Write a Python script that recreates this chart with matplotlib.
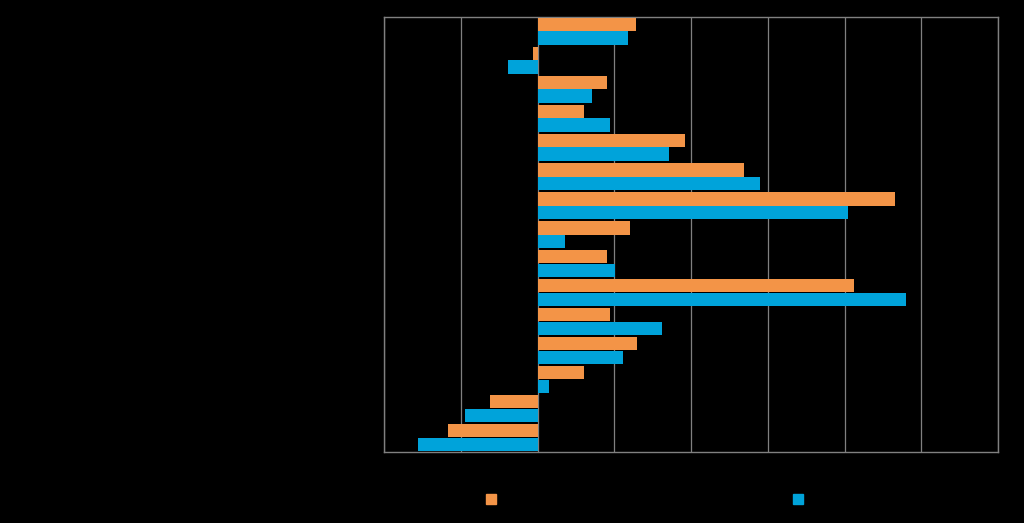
import matplotlib
matplotlib.use('Agg')
import matplotlib.pyplot as plt
import numpy as np
from matplotlib.patches import Patch

# data (labels are black on black in the original)
categories = [f'Cat {i}' for i in range(1, 16)]
series_names = ['Series 1', 'Series 2']
orange_vals = [6.4, -0.3, 4.5, 3.05, 9.6, 13.45, 23.3, 6.0, 4.55, 20.65, 4.7, 6.5, 3.05, -3.1, -5.85]
blue_vals = [5.9, -1.9, 3.55, 4.75, 8.55, 14.5, 20.2, 1.8, 5.05, 24.0, 8.1, 5.55, 0.75, -4.7, -7.8]

orange = '#F39447'
blue = '#00A3DA'
grid_col = '#808080'

fig = plt.figure(figsize=(10.24, 5.23), dpi=100, facecolor='black')
ax = fig.add_axes([384/1024, 1-452/523, 614/1024, 435/523])
ax.set_facecolor('black')

y = np.arange(len(categories))
h = 0.45
ax.barh(y - h/2, orange_vals, height=h, color=orange, label=series_names[0], zorder=3)
ax.barh(y + h/2, blue_vals, height=h, color=blue, label=series_names[1], zorder=3)

ax.set_xlim(-10, 30)
ax.set_xticks(np.arange(-10, 31, 5))
ax.set_ylim(len(categories) - 0.5, -0.5)
ax.set_yticks(y)
ax.set_yticklabels(categories)
ax.tick_params(colors='black', length=0, labelcolor='black')
ax.grid(axis='x', color=grid_col, linewidth=0.9, zorder=0)
for s in ax.spines.values():
    s.set_color(grid_col)
    s.set_linewidth(1.0)

# legend markers, label text black like the original
for name, col, xpos in [(series_names[0], orange, 486), (series_names[1], blue, 793)]:
    fig.legend(handles=[Patch(color=col)], labels=[name], loc='center left',
               bbox_to_anchor=(xpos/1024, 1-499.5/523), frameon=False,
               borderpad=0, borderaxespad=0, handlelength=0.7, handleheight=0.7,
               handletextpad=0.5, labelcolor='black', fontsize=10)

fig.savefig('out.png', dpi=100, facecolor='black')
